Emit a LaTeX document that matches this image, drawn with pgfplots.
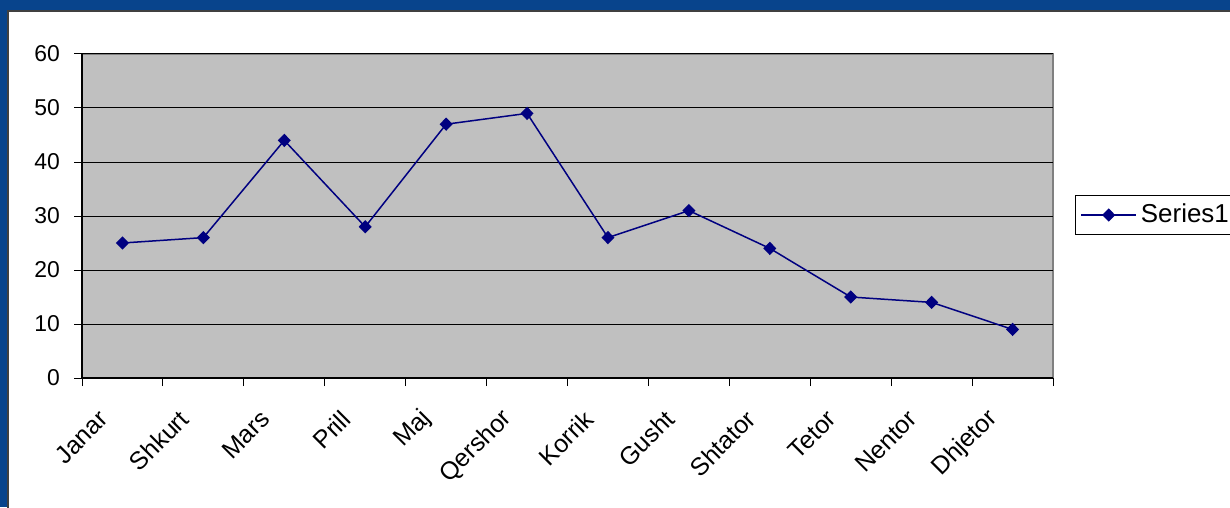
\documentclass[border=0pt]{standalone}
\usepackage{pgfplots}
\pgfplotsset{compat=1.18}
\usepackage{fontspec}
\setmainfont{Liberation Sans}
\definecolor{slide}{RGB}{8,68,140}
\definecolor{plotgray}{RGB}{192,192,192}
\definecolor{navyline}{RGB}{0,0,128}

\begin{document}
\begin{tikzpicture}[x=1bp,y=1bp]
  % slide background and white chart area
  \fill[slide] (0,0) rectangle (615,253.5);
  \fill[white, draw=black!75, line width=0.6bp] (4,-2) rectangle (617,248);
  \begin{axis}[
    at={(41bp,64.5bp)}, anchor=south west,
    scale only axis,
    width=485.5bp, height=162bp,
    xmin=-0.5, xmax=11.5,
    ymin=0, ymax=60,
    ytick={0,10,...,60},
    xtick={-0.5,0.5,...,11.5},
    xticklabels={},
    extra x ticks={0,1,...,11},
    extra x tick labels={Janar,Shkurt,Mars,Prill,Maj,Qershor,Korrik,Gusht,Shtator,Tetor,Nentor,Dhjetor},
    extra x tick style={major tick length=0pt,
      tick label style={xshift=-7bp, yshift=-16bp, rotate=45, anchor=east,
        font=\fontsize{12.5}{14}\selectfont}},
    tick align=outside,
    major tick length=4bp,
    tick style={black, line width=0.5bp},
    axis x line*=bottom, axis y line*=left,
    axis line style={black, line width=0.6bp, -},
    axis background/.style={fill=plotgray, draw=gray, line width=0.6bp},
    ymajorgrids,
    grid style={black, line width=0.5bp},
    yticklabel style={font=\fontsize{11.5}{13}\selectfont, xshift=-3.5bp},
    /pgf/number format/assume math mode=true,
    legend style={at={(1.0226,0.503)}, anchor=west, draw=black, line width=0.5bp,
      font=\fontsize{13}{15}\selectfont, inner sep=2.5bp},
    legend cell align=left,
    legend image code/.code={
      \draw[mark repeat=2, mark phase=2] plot coordinates {(0bp,0bp) (13.75bp,0bp) (27.5bp,0bp)};
    },
  ]
    \addplot[navyline, line width=0.75bp, mark=diamond*, mark size=2.8bp,
      mark options={fill=navyline, xscale=1.3}]
      coordinates {(0,25) (1,26) (2,44) (3,28) (4,47) (5,49) (6,26) (7,31) (8,24) (9,15) (10,14) (11,9)};
    \addlegendentry{Series1}
  \end{axis}
  \pgfresetboundingbox
  \useasboundingbox (0,0) rectangle (615,253.5);
\end{tikzpicture}
\end{document}
